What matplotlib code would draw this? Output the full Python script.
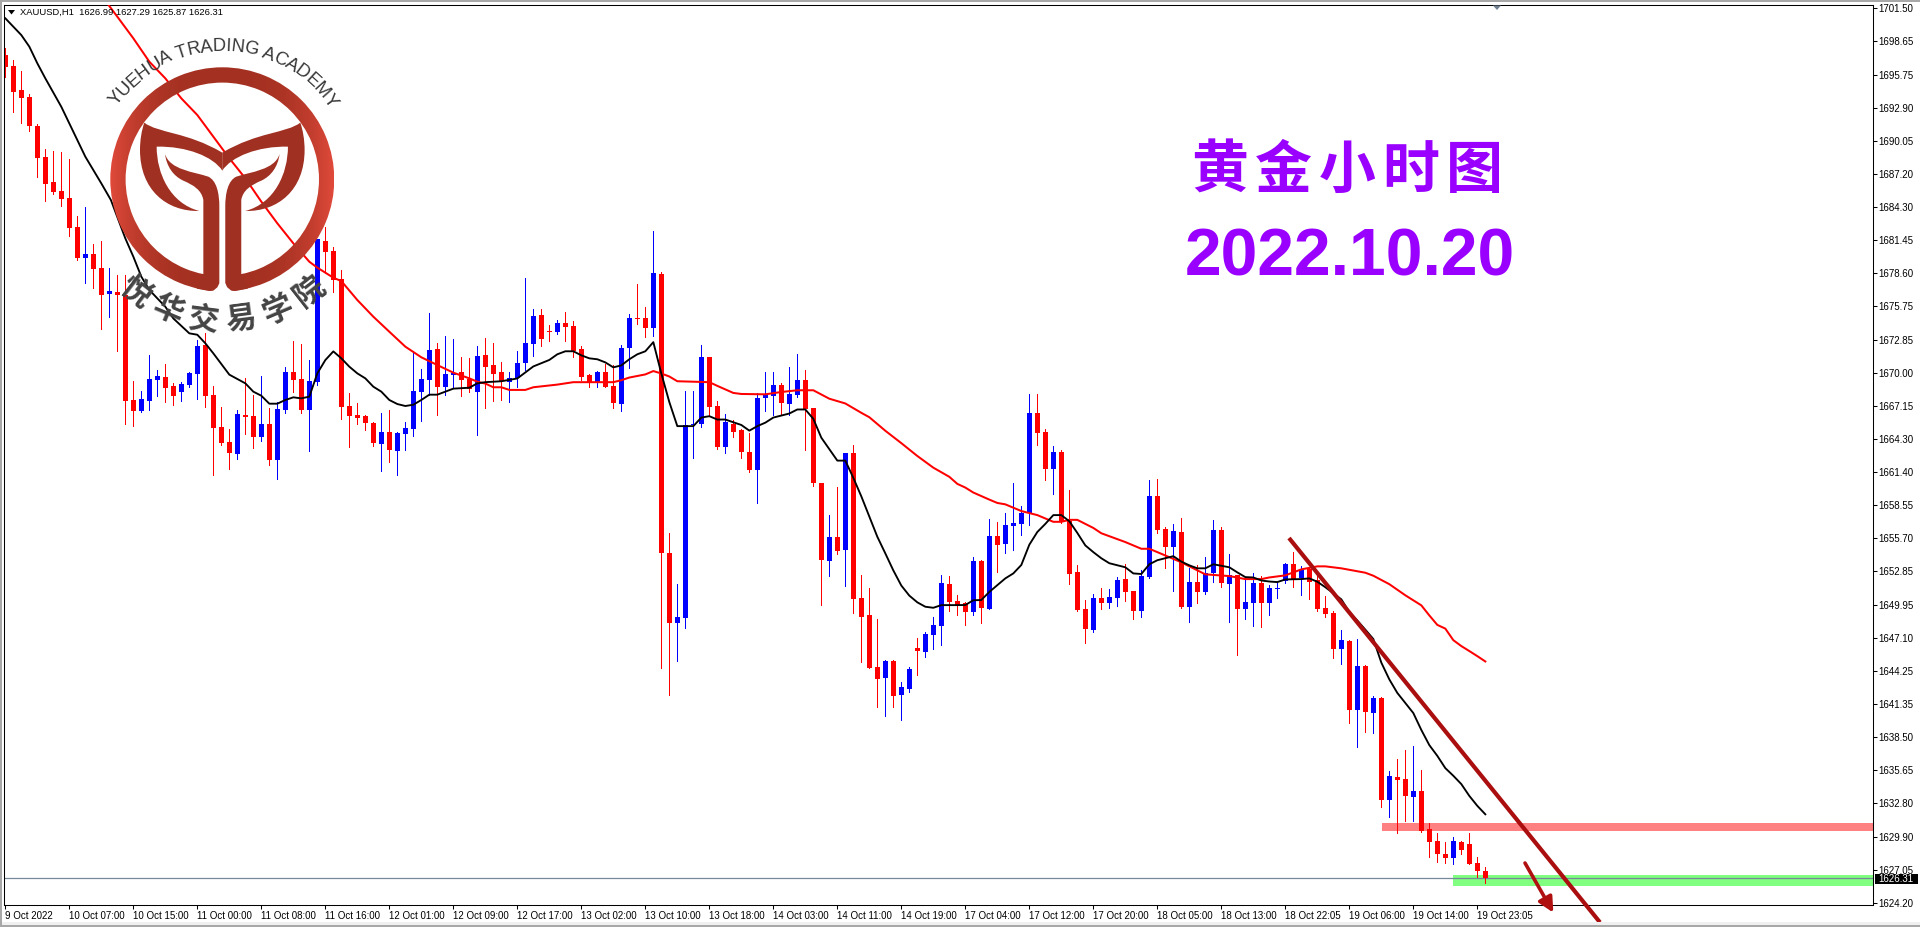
import matplotlib
matplotlib.use('Agg')
import matplotlib.pyplot as plt
import numpy as np
from matplotlib.font_manager import FontProperties, findfont, get_font
from matplotlib.ft2font import LoadFlags
from matplotlib.patches import PathPatch, Polygon, Rectangle, Wedge
from matplotlib.path import Path

# XAUUSD H1, prices
bar_open = [
    1697.48, 1696.53, 1694.45, 1693.85, 1691.34, 1688.66, 1686.50, 1685.72, 1685.12, 1682.61,
    1679.96, 1680.28, 1679.07, 1676.85, 1677.00, 1676.76, 1667.66, 1666.74, 1667.60, 1669.39,
    1669.65, 1668.87, 1668.38, 1668.95, 1669.93, 1672.38, 1668.09, 1665.32, 1664.03, 1663.02,
    1666.36, 1666.27, 1664.49, 1665.58, 1662.47, 1666.82, 1670.08, 1669.47, 1666.82, 1669.24,
    1681.37, 1680.51, 1678.11, 1667.14, 1666.36, 1666.27, 1665.67, 1663.88, 1664.89, 1663.28,
    1664.75, 1665.18, 1668.35, 1669.39, 1672.07, 1668.81, 1669.82, 1670.08, 1669.47, 1668.38,
    1671.52, 1670.65, 1670.04, 1669.23, 1669.60, 1670.83, 1672.49, 1674.99, 1673.62, 1673.53,
    1674.29, 1674.03, 1672.05, 1669.78, 1669.23, 1670.04, 1668.85, 1667.28, 1672.14, 1674.73,
    1674.73, 1673.85, 1678.54, 1654.47, 1648.39, 1648.83, 1665.50, 1665.59, 1671.35, 1667.10,
    1663.61, 1665.62, 1665.04, 1663.20, 1661.57, 1667.80, 1667.97, 1668.93, 1667.28, 1668.06,
    1669.43, 1666.93, 1660.52, 1653.77, 1655.84, 1654.73, 1663.12, 1650.57, 1649.09, 1644.58,
    1643.65, 1645.10, 1642.16, 1642.69, 1646.24, 1645.89, 1647.37, 1648.13, 1651.77, 1650.31,
    1650.08, 1649.30, 1653.72, 1649.56, 1655.87, 1655.21, 1656.75, 1656.92, 1657.88, 1666.53,
    1664.90, 1661.69, 1663.15, 1657.18, 1652.76, 1649.56, 1647.76, 1650.52, 1650.08, 1650.52,
    1652.15, 1651.13, 1649.39, 1652.32, 1659.34, 1656.49, 1654.94, 1656.22, 1649.73, 1651.89,
    1651.04, 1652.67, 1656.40, 1651.74, 1652.50, 1649.56, 1650.08, 1651.83, 1650.08, 1651.31,
    1652.00, 1653.46, 1652.24, 1653.02, 1652.09, 1649.65, 1649.21, 1646.10, 1646.79, 1640.86,
    1644.70, 1640.57, 1641.91, 1633.06, 1635.07, 1634.92, 1633.38, 1633.90, 1630.62, 1629.54,
    1628.41, 1628.07, 1629.46, 1629.28, 1627.63, 1626.99,
]
bar_high = [
    1698.05, 1697.04, 1696.09, 1694.08, 1691.48, 1689.35, 1689.18, 1689.06, 1688.49, 1683.56,
    1684.31, 1681.14, 1681.40, 1679.07, 1678.46, 1678.46, 1669.30, 1668.44, 1671.55, 1670.25,
    1670.77, 1669.16, 1669.21, 1670.08, 1672.84, 1673.42, 1668.87, 1667.05, 1665.15, 1666.79,
    1669.56, 1668.09, 1669.73, 1666.97, 1667.51, 1670.51, 1672.76, 1672.50, 1671.11, 1681.60,
    1682.64, 1680.85, 1678.89, 1668.23, 1667.37, 1666.39, 1665.76, 1666.51, 1666.79, 1664.92,
    1665.76, 1671.92, 1670.34, 1675.15, 1672.56, 1673.19, 1672.93, 1671.37, 1671.29, 1672.32,
    1673.01, 1672.57, 1670.91, 1670.10, 1671.87, 1678.19, 1675.51, 1675.51, 1674.11, 1674.55,
    1675.25, 1674.46, 1672.31, 1669.87, 1670.13, 1670.74, 1670.68, 1672.37, 1675.07, 1677.72,
    1675.66, 1682.26, 1678.71, 1656.16, 1651.77, 1668.47, 1668.47, 1672.37, 1671.35, 1667.60,
    1666.49, 1665.97, 1665.15, 1664.77, 1668.29, 1670.04, 1670.04, 1669.14, 1670.48, 1671.61,
    1670.22, 1667.01, 1660.52, 1657.76, 1660.18, 1663.12, 1663.81, 1652.55, 1651.45, 1648.74,
    1645.22, 1645.22, 1643.30, 1644.58, 1647.11, 1647.63, 1648.91, 1652.55, 1652.46, 1650.83,
    1650.20, 1654.07, 1653.81, 1657.36, 1657.10, 1657.88, 1660.47, 1658.49, 1668.18, 1668.18,
    1665.16, 1663.67, 1663.30, 1659.86, 1653.37, 1650.35, 1650.87, 1651.39, 1651.31, 1652.32,
    1653.46, 1651.13, 1652.94, 1660.73, 1660.82, 1656.66, 1656.92, 1657.45, 1653.11, 1653.43,
    1654.07, 1657.27, 1656.66, 1654.33, 1652.50, 1652.15, 1652.67, 1652.41, 1651.65, 1651.83,
    1653.55, 1654.51, 1653.28, 1653.11, 1652.59, 1650.69, 1649.39, 1647.76, 1646.88, 1646.97,
    1644.79, 1642.08, 1642.00, 1635.62, 1636.67, 1637.45, 1637.72, 1635.71, 1631.14, 1630.24,
    1629.48, 1629.89, 1629.54, 1630.24, 1628.15, 1627.29,
]
bar_low = [
    1695.55, 1692.58, 1691.57, 1690.94, 1686.96, 1684.89, 1685.46, 1684.45, 1681.86, 1679.79,
    1677.80, 1677.37, 1673.82, 1674.86, 1671.92, 1665.61, 1665.44, 1666.65, 1666.82, 1668.03,
    1667.51, 1667.25, 1667.60, 1668.81, 1667.77, 1667.08, 1661.20, 1663.80, 1661.69, 1662.59,
    1664.75, 1663.54, 1664.14, 1662.04, 1660.83, 1666.56, 1668.38, 1666.56, 1663.28, 1668.95,
    1678.61, 1677.02, 1666.04, 1663.62, 1665.61, 1665.09, 1663.71, 1661.55, 1662.33, 1661.20,
    1663.37, 1664.58, 1665.87, 1668.09, 1666.39, 1668.09, 1668.67, 1668.00, 1668.38, 1664.63,
    1666.96, 1667.54, 1667.63, 1667.48, 1668.76, 1670.21, 1671.44, 1672.31, 1672.78, 1673.36,
    1672.72, 1671.35, 1669.43, 1668.76, 1668.76, 1668.76, 1667.01, 1666.75, 1670.39, 1674.20,
    1673.07, 1673.15, 1644.52, 1642.16, 1645.07, 1647.98, 1662.68, 1665.30, 1666.40, 1663.41,
    1663.12, 1664.42, 1662.68, 1661.43, 1658.72, 1666.75, 1666.32, 1666.32, 1666.40, 1667.89,
    1663.38, 1660.20, 1649.96, 1652.46, 1654.33, 1651.59, 1649.26, 1645.01, 1644.52, 1641.11,
    1640.36, 1641.11, 1640.01, 1642.42, 1643.91, 1645.45, 1646.15, 1646.50, 1649.44, 1649.09,
    1648.22, 1649.04, 1648.42, 1649.56, 1652.76, 1654.42, 1654.68, 1655.96, 1656.83, 1663.76,
    1660.73, 1659.51, 1657.04, 1651.74, 1649.39, 1646.62, 1647.58, 1649.56, 1649.65, 1649.82,
    1650.26, 1648.77, 1648.86, 1652.24, 1656.14, 1653.11, 1651.13, 1649.65, 1648.51, 1650.08,
    1650.87, 1651.89, 1651.48, 1648.51, 1645.66, 1648.77, 1648.10, 1648.00, 1649.04, 1650.52,
    1651.83, 1651.48, 1650.78, 1650.43, 1649.39, 1648.86, 1645.40, 1644.82, 1639.70, 1637.66,
    1639.00, 1638.91, 1632.51, 1631.63, 1630.27, 1631.29, 1631.29, 1630.30, 1628.17, 1627.75,
    1627.63, 1627.55, 1628.41, 1627.55, 1626.42, 1625.87,
]
bar_close = [
    1696.47, 1694.31, 1693.79, 1691.37, 1688.60, 1686.36, 1685.64, 1685.06, 1682.55, 1679.96,
    1680.28, 1679.01, 1676.76, 1677.08, 1676.76, 1667.60, 1666.74, 1667.74, 1669.47, 1669.73,
    1668.69, 1668.03, 1669.04, 1669.99, 1672.32, 1668.03, 1665.27, 1663.94, 1663.11, 1666.45,
    1666.19, 1664.49, 1665.58, 1662.47, 1666.88, 1670.08, 1669.39, 1666.82, 1669.30, 1681.60,
    1680.48, 1678.03, 1667.08, 1666.27, 1666.10, 1665.67, 1663.94, 1664.89, 1663.34, 1664.81,
    1665.24, 1668.44, 1669.47, 1671.98, 1668.78, 1669.91, 1669.99, 1669.39, 1668.61, 1671.46,
    1670.48, 1669.87, 1669.34, 1669.60, 1670.83, 1672.57, 1674.90, 1672.92, 1673.53, 1674.29,
    1673.94, 1671.87, 1669.69, 1669.17, 1670.04, 1668.76, 1667.36, 1672.14, 1674.73, 1674.64,
    1673.85, 1678.63, 1654.47, 1648.39, 1648.91, 1665.53, 1665.62, 1671.35, 1667.02, 1663.61,
    1665.79, 1664.86, 1663.20, 1661.57, 1667.80, 1668.15, 1668.93, 1667.36, 1668.15, 1669.43,
    1666.84, 1660.47, 1653.86, 1655.84, 1654.65, 1663.12, 1650.49, 1648.91, 1644.52, 1643.56,
    1645.10, 1642.08, 1642.86, 1644.43, 1645.98, 1647.46, 1648.22, 1651.85, 1650.22, 1649.93,
    1649.30, 1653.72, 1649.65, 1655.87, 1655.12, 1656.83, 1657.01, 1657.88, 1666.53, 1664.81,
    1661.69, 1663.15, 1657.13, 1652.59, 1649.53, 1647.84, 1650.52, 1650.08, 1650.61, 1652.06,
    1651.04, 1649.39, 1652.41, 1659.34, 1656.40, 1654.94, 1656.31, 1649.73, 1651.89, 1651.04,
    1652.67, 1656.40, 1651.83, 1652.50, 1649.56, 1650.17, 1651.83, 1650.08, 1651.39, 1651.39,
    1653.46, 1652.15, 1652.94, 1651.92, 1649.56, 1649.12, 1646.10, 1646.88, 1640.86, 1644.70,
    1640.66, 1641.91, 1633.06, 1635.15, 1634.78, 1633.41, 1633.90, 1630.41, 1629.48, 1628.38,
    1628.07, 1629.54, 1628.76, 1627.55, 1626.94, 1626.31,
]

# moving averages, read at the bars listed
fast_ma_bar = [
    0, 2, 3, 4, 5, 7, 9, 10, 12, 13.2, 15, 16, 17, 18, 20, 21, 23, 24, 25, 26, 28, 30, 31, 32, 33, 34, 35,
    36, 37, 38, 39, 40, 41, 42, 43, 44, 45, 46, 47, 48, 49, 50, 51, 52, 53, 54, 55, 56, 58, 59,
    60, 62, 64, 65, 66, 68, 69, 70, 71, 72, 73, 74, 75, 76, 77, 78, 79, 80, 81, 82, 83, 84, 86, 87, 88,
    89, 90, 92, 93, 94, 95, 96, 98, 99, 100, 101, 102, 104, 105, 106, 107, 108, 109, 110, 111, 112,
    113, 114, 115, 116, 117, 119, 120, 121, 122, 123, 124, 125, 126, 127, 128, 129, 130, 131, 132,
    133, 134, 135, 136, 137, 138, 140, 141, 142, 143, 144, 146, 147, 148, 149, 150, 151, 153, 154,
    155, 156, 157, 158, 159, 160, 162, 163, 164, 165, 166, 167, 168, 169, 170, 171, 172, 173, 174,
    176, 177, 178, 179, 180, 181, 182, 183, 184, 185,
]
fast_ma = [
    1700.65, 1699.2, 1698.2, 1696.76, 1695.46, 1693.0, 1690.13, 1688.69, 1686.38, 1684.94, 1681.63,
    1680.05, 1678.32, 1677.17, 1675.72, 1674.71, 1673.42, 1673.3, 1672.56, 1671.69, 1669.85, 1669.1,
    1668.38, 1668.03, 1667.34, 1667.34, 1667.66, 1667.89, 1667.8, 1667.95, 1669.96, 1671.11, 1671.86,
    1671.26, 1670.54, 1669.96, 1669.53, 1668.81, 1668.38, 1667.66, 1667.31, 1667.14, 1667.25, 1667.66,
    1668.12, 1668.12, 1668.38, 1668.64, 1668.72, 1669.1,
    1669.2, 1669.28, 1669.52, 1670.04, 1670.56, 1671.12, 1671.61, 1671.87, 1671.87, 1671.52, 1671.26,
    1671.18, 1670.91, 1670.48, 1670.65, 1671.18, 1671.61, 1671.87, 1672.66, 1669.95, 1667.48, 1665.4,
    1665.4, 1666.14, 1666.26, 1665.97, 1665.97, 1665.5, 1665.01, 1665.4, 1665.7, 1666.14, 1666.49,
    1666.84, 1666.84, 1666.03, 1664.4, 1662.42, 1662.42, 1660.93, 1659.33, 1657.59, 1655.84, 1654.4,
    1652.93, 1651.62, 1650.75, 1650.17, 1649.79, 1649.7, 1649.93, 1649.93,
    1649.94, 1650.35, 1650.37, 1651.07, 1651.65, 1652.24, 1652.67, 1653.4, 1655.15, 1656.25, 1656.95,
    1657.71, 1657.71, 1657.18, 1656.17, 1655.09, 1654.51, 1653.98, 1653.55, 1653.2, 1652.67, 1652.62,
    1653.46, 1653.81, 1654.16, 1653.69, 1653.37, 1653.11, 1653.11, 1653.46, 1653.2, 1652.76, 1652.35,
    1652.32, 1652.06, 1651.97, 1651.92, 1652.15, 1652.18, 1652.24, 1651.95, 1651.48, 1650.96, 1650.43,
    1649.33, 1648.6, 1647.81, 1647.0, 1644.96, 1643.51, 1642.34, 1640.6, 1639.14, 1637.83, 1636.9,
    1635.84, 1635.18, 1634.46, 1633.44, 1632.58, 1631.85,
]
slow_ma_bar = [
    12.9, 14, 16, 18, 20, 22, 24, 26, 28, 30, 32, 34, 36, 38, 39, 41, 42, 44, 46, 48, 50, 52, 54, 56, 58, 59,
    60, 61, 62, 63, 65, 66, 69, 71, 76, 77, 78, 80, 81, 82, 83, 84, 88, 89, 91, 92, 95, 97, 99, 101, 103,
    105, 107, 108, 110, 112, 114, 116, 118, 119,
    120, 121, 123, 124, 125, 127, 129, 131, 132, 133, 134, 136, 137, 140, 142, 143, 145, 147, 150, 153,
    155, 157, 158, 160, 162, 164, 165, 167, 170, 171, 173, 175, 177, 178, 179, 180, 181, 182, 183, 184, 185,
]
slow_ma = [
    1701.8, 1700.79, 1698.92, 1696.9, 1695.46, 1693.73, 1692.29, 1690.42, 1688.55, 1686.82, 1684.8,
    1682.93, 1681.2, 1679.61, 1679.1, 1678.23, 1677.94, 1676.3, 1674.86, 1673.56, 1672.27, 1671.35,
    1670.68, 1670.02, 1669.53, 1669.24,
    1669.08, 1668.76, 1668.76, 1668.53, 1668.53, 1668.76, 1668.99, 1669.2, 1669.2, 1669.37, 1669.6,
    1669.87, 1670.16, 1669.95, 1669.69, 1669.28, 1669.2, 1668.88, 1668.27, 1668.18, 1668.15, 1668.35,
    1668.5, 1668.5, 1667.77, 1667.36, 1666.55, 1666.17, 1665.0, 1663.93, 1662.82, 1661.81, 1661.02, 1660.41,
    1660.09, 1659.66, 1659.05, 1658.76, 1658.64, 1658.06, 1657.71, 1657.13, 1657.13, 1657.3, 1657.3,
    1656.6, 1656.14, 1655.38, 1654.8, 1654.8, 1654.22, 1653.63, 1652.59, 1652.44, 1652.18, 1652.18,
    1652.32, 1652.5, 1653.02, 1653.28, 1653.28, 1653.11, 1652.73, 1652.47, 1651.74, 1650.78, 1649.91,
    1649.04, 1648.22, 1647.9, 1646.9, 1646.39, 1645.96, 1645.52, 1645.06,
]

price_ticks = [
    1701.50, 1698.65, 1695.75, 1692.90, 1690.05, 1687.20, 1684.30, 1681.45, 1678.60, 1675.75,
    1672.85, 1670.00, 1667.15, 1664.30, 1661.40, 1658.55, 1655.70, 1652.85, 1649.95, 1647.10,
    1644.25, 1641.35, 1638.50, 1635.65, 1632.80, 1629.90, 1627.05, 1624.20,
]
time_labels = [
    '9 Oct 2022', '10 Oct 07:00', '10 Oct 15:00', '11 Oct 00:00', '11 Oct 08:00', '11 Oct 16:00',
    '12 Oct 01:00', '12 Oct 09:00', '12 Oct 17:00', '13 Oct 02:00', '13 Oct 10:00', '13 Oct 18:00',
    '14 Oct 03:00', '14 Oct 11:00', '14 Oct 19:00', '17 Oct 04:00', '17 Oct 12:00', '17 Oct 20:00',
    '18 Oct 05:00', '18 Oct 13:00', '18 Oct 22:05', '19 Oct 06:00', '19 Oct 14:00', '19 Oct 23:05',
]
last_price = 1626.31

W, H = 1920, 927
plt.rcParams['font.family'] = ['Liberation Sans', 'DejaVu Sans']
fig = plt.figure(figsize=(W / 100, H / 100), dpi=100, facecolor='white')
ax = fig.add_axes([4 / W, (H - 905) / H, 1869 / W, 900 / H])
ax.set_xlim(-0.166, 233.46)
ax.set_ylim(1624.01, 1701.80)

# zones sit behind the candles
ax.add_patch(Rectangle((172.1, 1630.41), 70, 0.69, color='#ff8080', lw=0, zorder=1))
ax.add_patch(Rectangle((180.9, 1625.64), 70, 0.95, color='#80ff80', lw=0, zorder=1))
ax.axhline(last_price, color='#778899', lw=0.9, zorder=1.5)

bars = np.arange(len(bar_open))
o = np.array(bar_open)
c = np.array(bar_close)
colors = np.where(c > o, 'blue', 'red')
ax.vlines(bars, bar_low, bar_high, colors=colors, lw=0.5, antialiased=False, zorder=2)
ax.bar(bars, np.maximum(np.abs(c - o), 0.08), bottom=np.minimum(o, c), width=0.66,
       color=colors, lw=0, antialiased=False, zorder=2.1)

ax.plot(slow_ma_bar, slow_ma, color='red', lw=1.45, zorder=3)
ax.plot(fast_ma_bar, fast_ma, color='black', lw=1.35, zorder=3.1)

# hand drawn trend line and arrow, both run past the bottom of the chart
ax.plot([160.46, 199.33], [1655.73, 1622.51], color='#aa0e0e', lw=3.0,
        clip_on=False, zorder=4, solid_capstyle='butt')
ax.annotate('', xy=(193.5, 1623.35), xytext=(189.96, 1627.64), annotation_clip=False, zorder=4,
            arrowprops=dict(arrowstyle='-|>,head_length=0.9,head_width=0.45', color='#b01010',
                            lw=2.6, shrinkA=0, shrinkB=0))

ax.yaxis.tick_right()
ax.set_yticks(price_ticks)
ax.set_yticklabels([f'{p:.2f}' for p in price_ticks])
ax.set_xticks(bars[::8])
ax.set_xticklabels(time_labels, ha='left')
ax.tick_params(axis='y', labelsize=7, length=3, width=0.75, pad=1)
ax.tick_params(axis='x', labelsize=7, length=3, width=0.75, pad=1.5)
for side in ax.spines.values():
    side.set_linewidth(0.75)
    side.set_color('black')

# overlay in screen pixels for the watermark and the header bits
deco = fig.add_axes([0, 0, 1, 1], facecolor='none')
deco.set_xlim(0, W)
deco.set_ylim(H, 0)
deco.axis('off')

deco.add_patch(Rectangle((0, 922), W, 5, color='#f0f0f0', lw=0))
deco.add_patch(Rectangle((0, 0), W, 2, color='#a8a8a8', lw=0))
deco.add_patch(Rectangle((0, 0), 2, H, color='#a8a8a8', lw=0))
deco.add_patch(Rectangle((0, H - 2), W, 2, color='#a8a8a8', lw=0))

deco.add_patch(Polygon([(8, 10), (15, 10), (11.5, 14.5)], color='black', lw=0))
deco.text(19.5, 12.6, 'XAUUSD,H1  1626.99 1627.29 1625.87 1626.31', fontsize=6.75, va='center')
deco.add_patch(Polygon([(1493, 5.5), (1501, 5.5), (1497, 10)], color='#708090', lw=0))

deco.add_patch(Rectangle((1875, 873.5), 43, 10.5, color='black', lw=0, zorder=6))
deco.text(1878.5, 878.8, f'{last_price:.2f}', color='white', fontsize=7, va='center', zorder=7)

# logo
cx, cy, r_out, r_in = 222.3, 179.3, 112, 96.7
ring = Wedge((cx, cy), r_out, 0, 360, width=r_out - r_in, lw=0, facecolor='none')
deco.add_patch(ring)
xs = np.linspace(-1, 1, 256)
edge = np.array([0.88, 0.29, 0.23])
mid = np.array([0.64, 0.19, 0.13])
grad = (mid + np.outer(np.abs(xs) ** 3, edge - mid))[None, :, :]
im = deco.imshow(grad, extent=(cx - r_out, cx + r_out, cy + r_out, cy - r_out), aspect='auto', zorder=5)
im.set_clip_path(ring)
deco.set_xlim(0, W)
deco.set_ylim(H, 0)

logo_color = '#a03022'
M, L, C = Path.MOVETO, Path.LINETO, Path.CURVE4
horn = [((433, 368), M), ((475, 400), C), ((560, 395), C), ((667, 458), C), ((667, 512), L),
        ((640, 470), C), ((560, 438), C), ((470, 440), C), ((470, 520), C), ((510, 610), C), ((598, 633), C),
        ((500, 635), C), ((420, 570), C), ((420, 450), C), ((420, 420), C), ((425, 390), C), ((433, 368), C)]
leaf = [((495, 462), M), ((510, 510), C), ((580, 515), C), ((625, 530), C), ((650, 542), C), ((658, 580), C),
        ((658, 620), C), ((658, 850), L), ((650, 865), C), ((640, 873), C), ((628, 873), C), ((590, 866), L),
        ((610, 822), L), ((610, 600), L), ((605, 570), C), ((580, 555), C), ((550, 542), C), ((520, 528), C),
        ((500, 500), C), ((495, 462), C)]
for shape in (horn, leaf):
    pts = np.array([p for p, _ in shape], dtype=float) / 3
    codes = [k for _, k in shape]
    deco.add_patch(PathPatch(Path(pts, codes), color=logo_color, lw=0, zorder=5.1))
    flipped = pts.copy()
    flipped[:, 0] = 2 * cx - flipped[:, 0]
    deco.add_patch(PathPatch(Path(flipped, codes), color=logo_color, lw=0, zorder=5.1))
deco.add_patch(Rectangle((cx - 3.2, cy + 60), 6.4, 60, color='white', lw=0, zorder=5.05))
# the two stems end in rounded corners where the ring is cut
corner = np.array([(658, 850), (652, 862), (640, 872), (628, 876), (640, 884), (660, 884)], dtype=float) / 3
deco.add_patch(Polygon(corner, color='white', lw=0, zorder=5.2))
corner_r = corner.copy()
corner_r[:, 0] = 2 * cx - corner_r[:, 0]
deco.add_patch(Polygon(corner_r, color='white', lw=0, zorder=5.2))

# curved english name above the ring
arc_text = 'YUEHUA TRADING ACADEMY'
arc_font = FontProperties(family='Liberation Sans', size=13.2)
face = get_font(findfont(arc_font))
face.set_size(13.2, 100)
adv = np.array([face.load_char(ord(ch), flags=LoadFlags.NO_HINTING).linearHoriAdvance / 65536 for ch in arc_text])
arc_r = 133
pos = np.cumsum(adv) - adv / 2 - adv.sum() / 2
for ch, s in zip(arc_text, pos):
    th = s / arc_r + 0.012
    deco.text(cx + arc_r * np.sin(th), cy - arc_r * np.cos(th), ch, fontproperties=arc_font, color='#383838',
              rotation=-np.degrees(th), rotation_mode='anchor', ha='center', va='center', zorder=6)

# chinese name below the ring
for ch, deg in zip('悦华交易学院', [-37.5, -22.7, -7.5, 7.5, 23, 38]):
    th = np.radians(deg)
    deco.text(cx + 142 * np.sin(th), cy + 142 * np.cos(th), ch, family=['Noto Sans CJK SC', 'DejaVu Sans'],
              weight='bold', fontsize=22, color='#444444', rotation=deg, rotation_mode='anchor',
              ha='center', va='center', zorder=6)

# big purple caption
for k, ch in enumerate('黄金小时图'):
    deco.text(1220 + 63.5 * k, 171, ch, family=['Noto Sans CJK SC', 'DejaVu Sans'], weight='bold',
              fontsize=41, color='#9900ff', ha='center', va='center')
deco.text(1350, 258, '2022.10.20', family='Liberation Sans', weight='bold', fontsize=47.5,
          color='#9900ff', ha='center', va='center')

fig.savefig('out.png', dpi=100)
